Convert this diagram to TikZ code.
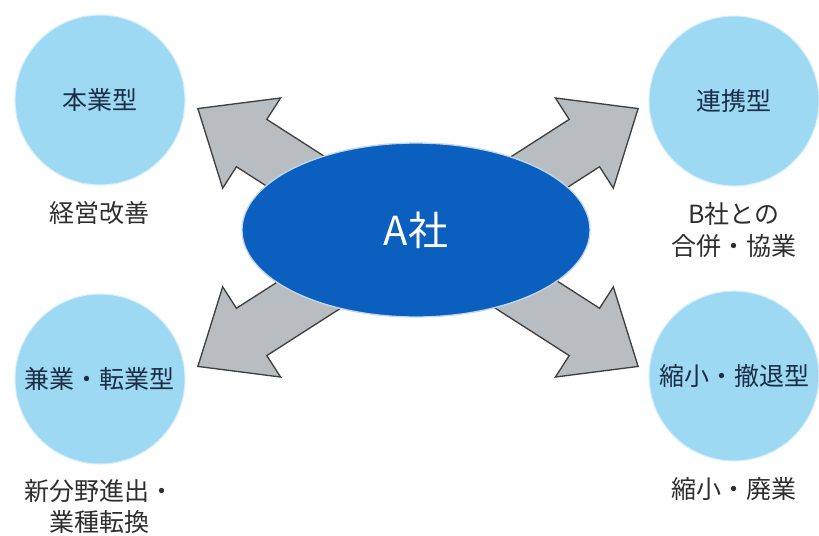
\documentclass[tikz,border=0pt]{standalone}
\usepackage{fontspec}
\setmainfont{Noto Sans CJK JP}
\usetikzlibrary{shapes.geometric, shapes.arrows, positioning}
\definecolor{circblue}{HTML}{9ED9F4}
\definecolor{compblue}{HTML}{0B5FBF}
\definecolor{arrgray}{HTML}{B7BDC0}
\definecolor{navytext}{HTML}{1C2E45}
\definecolor{labeltext}{HTML}{2E2E2E}
\begin{document}
\begin{tikzpicture}[x=0.75pt, y=-0.75pt,
    typ/.style={circle, fill=circblue, draw=circblue!40, line width=0.8pt, minimum size=127.5pt, inner sep=0pt, text=navytext, font=\fontsize{18.75}{22}\selectfont},
    lbl/.style={text=labeltext, align=center, inner sep=0pt, font=\fontsize{18.75}{23.5}\selectfont},
    blk/.style={single arrow, fill=arrgray, draw=black!75, line width=1pt, minimum height=127.5pt, inner xsep=0pt, inner ysep=20.6pt, single arrow head extend=19.1pt, single arrow tip angle=80},
    comp/.style={ellipse, fill=compblue, draw=white!75!compblue, line width=1pt, minimum width=261pt, minimum height=130.5pt, text=white, font=\fontsize{30}{30}\selectfont}]
  \useasboundingbox (0,0) rectangle (819,536);

  % four types
  \node[typ] (hon) at (100,100) {本業型};
  \node[typ] (renkei) at (734,101) {連携型};
  \node[typ] (kengyo) at (100,379) {兼業・転業型};
  \node[typ] (shuku) at (734,376) {縮小・撤退型};

  \node[lbl, below=12pt of hon] (honL) {経営改善};
  \node[lbl, below=12pt of renkei] (renkeiL) {B社との\\合併・協業};
  \node[lbl, below=11pt of kengyo] (kengyoL) {新分野進出・\\業種転換};
  \node[lbl, below=12pt of shuku] (shukuL) {縮小・廃業};

  % arrow tips
  \coordinate (tHon) at (197,108);
  \coordinate (tRenkei) at (639,108);
  \coordinate (tKengyo) at (197,367);
  \coordinate (tShuku) at (639,367);

  \node[blk, rotate=147.3, anchor=tip] (aHon) at (tHon) {};
  \node[blk, rotate=32.7, anchor=tip] (aRenkei) at (tRenkei) {};
  \node[blk, rotate=212.7, anchor=tip] (aKengyo) at (tKengyo) {};
  \node[blk, rotate=-32.7, anchor=tip] (aShuku) at (tShuku) {};

  \node[comp] (a) at (416,230) {A社};
\end{tikzpicture}
\end{document}
